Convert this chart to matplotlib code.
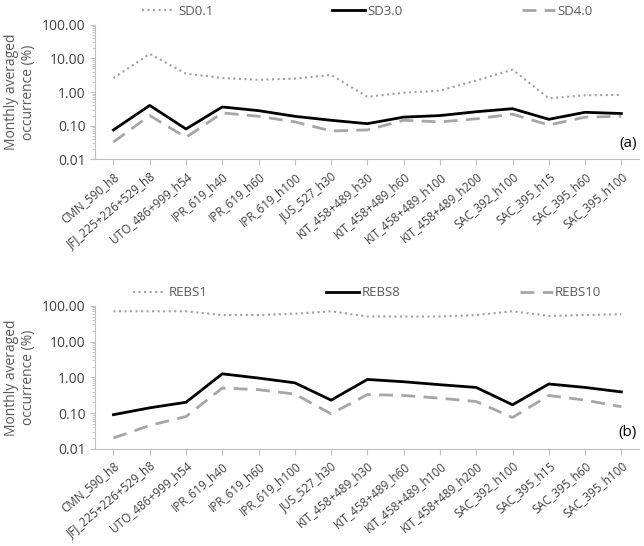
import numpy as np
import matplotlib
matplotlib.use("Agg")
import matplotlib.pyplot as plt

plt.rcParams.update({"font.family": "Open Sans", "font.size": 9})

sites = ["CMN_590_h8", "JFJ_225+226+529_h8", "UTO_486+999_h54", "IPR_619_h40", "IPR_619_h60",
         "IPR_619_h100", "JUS_527_h30", "KIT_458+489_h30", "KIT_458+489_h60", "KIT_458+489_h100",
         "KIT_458+489_h200", "SAC_392_h100", "SAC_395_h15", "SAC_395_h60", "SAC_395_h100"]
sd01 = [2.6, 13.5, 3.5, 2.6, 2.3, 2.5, 3.2, 0.72, 0.95, 1.1, 2.2, 4.6, 0.65, 0.8, 0.82]
sd30 = [0.075, 0.40, 0.08, 0.36, 0.28, 0.19, 0.145, 0.115, 0.18, 0.20, 0.26, 0.32, 0.155, 0.25, 0.23]
sd40 = [0.033, 0.20, 0.045, 0.24, 0.19, 0.13, 0.07, 0.075, 0.145, 0.13, 0.16, 0.22, 0.105, 0.18, 0.19]
rebs1 = [70, 70, 70, 55, 55, 60, 70, 50, 50, 50, 55, 70, 52, 55, 58]
rebs8 = [0.09, 0.14, 0.20, 1.25, 0.95, 0.70, 0.23, 0.87, 0.75, 0.62, 0.52, 0.17, 0.65, 0.52, 0.39]
rebs10 = [0.02, 0.045, 0.08, 0.50, 0.45, 0.34, 0.095, 0.33, 0.31, 0.26, 0.21, 0.075, 0.31, 0.23, 0.15]

fig = plt.figure(figsize=(6.44, 5.46), dpi=100)
axes = [fig.add_axes([0.148, 0.708, 0.845, 0.247]), fig.add_axes([0.148, 0.178, 0.845, 0.262])]
x = np.arange(len(sites))
panels = [((sd01, sd30, sd40), ("SD0.1", "SD3.0", "SD4.0"), "(a)"),
          ((rebs1, rebs8, rebs10), ("REBS1", "REBS8", "REBS10"), "(b)")]
for ax, (ys, labs, tag) in zip(axes, panels):
    ax.plot(x, ys[0], ls=":", c="#a0a0a0", lw=1.5, label=labs[0])
    ax.plot(x, ys[1], ls="-", c="black", lw=2, label=labs[1])
    ax.plot(x, ys[2], ls="--", c="#a6a6a6", lw=2, dashes=(5, 3), label=labs[2])
    ax.set_yscale("log")
    ax.set_ylim(0.01, 100)
    ax.set_yticks([0.01, 0.1, 1, 10, 100])
    ax.set_yticklabels(["0.01", "0.10", "1.00", "10.00", "100.00"], color="#404040", fontsize=10)
    ax.set_xlim(-0.5, len(sites) - 0.5)
    ax.set_xticks(x)
    ax.set_xticklabels(sites, rotation=40, ha="right", rotation_mode="anchor", color="#404040", fontsize=8.5)
    ax.set_ylabel("Monthly averaged\noccurrence (%)", color="#595959", fontsize=10)
    for s in ["top", "right"]:
        ax.spines[s].set_visible(False)
    for s in ["left", "bottom"]:
        ax.spines[s].set_color("#bfbfbf")
    ax.tick_params(axis="x", length=4, color="#bfbfbf")
    ax.tick_params(axis="y", which="both", color="#bfbfbf")
    ax.text(0.995, 0.06, tag, transform=ax.transAxes, ha="right", va="bottom", fontsize=11)
    ax.legend(loc="lower center", bbox_to_anchor=(0.5, 1.0), ncol=3, frameon=False,
              columnspacing=9, handlelength=2.5, handletextpad=0.2, fontsize=9.5,
              labelcolor="#595959", borderaxespad=0.1)

fig.savefig("out.png")
